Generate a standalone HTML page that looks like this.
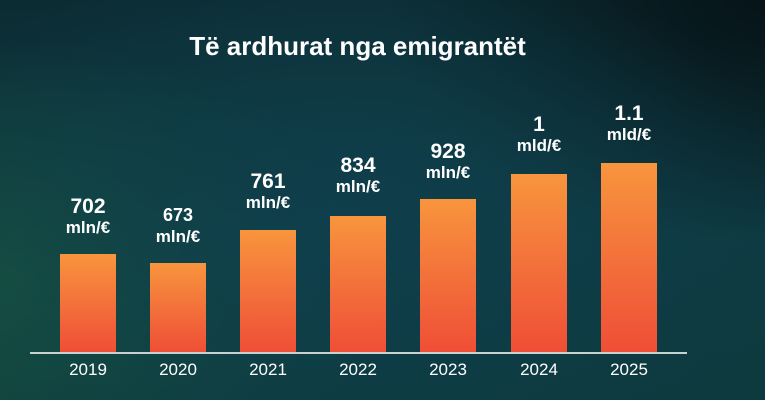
<!DOCTYPE html>
<html><head><style>
html,body{margin:0;padding:0}
body{width:765px;height:400px;overflow:hidden;position:relative;font-family:"Liberation Sans",sans-serif;color:#fff;
background:radial-gradient(ellipse 60% 70% at 45% 55%,#0f3f4c 0%,rgba(15,63,76,0) 100%),
radial-gradient(ellipse 50% 60% at 0% 70%,#16503f 0%,rgba(22,80,63,0) 100%),
radial-gradient(ellipse 50% 60% at 100% 0%,#061418 0%,rgba(6,20,24,0) 100%),
linear-gradient(180deg,#0c2c33 0%,#0e3a42 60%,#0d3a3e 100%);}
.t{position:absolute;left:0;width:715px;top:31px;text-align:center;font-weight:bold;font-size:26px}
.b{position:absolute;width:56px;background:linear-gradient(180deg,#f8953d 0%,#f26a3a 60%,#ef4e36 100%);bottom:47px}
.base{position:absolute;left:30px;width:657px;top:352px;height:2px;background:#c8d0d0}
.y{position:absolute;top:360px;width:80px;text-align:center;font-size:17px}
.l{position:absolute;width:90px;text-align:center;font-weight:bold;line-height:21px}
.l .n{font-size:21px}.l .u{font-size:17px}
</style></head><body>
<div class="t">Të ardhurat nga emigrantët</div>
<div class="b" style="left:60px;top:254px"></div>
<div class="b" style="left:150px;top:263px"></div>
<div class="b" style="left:240px;top:230px"></div>
<div class="b" style="left:330px;top:216px"></div>
<div class="b" style="left:420px;top:199px"></div>
<div class="b" style="left:511px;top:174px"></div>
<div class="b" style="left:601px;top:163px"></div>
<div class="base"></div>
<div class="y" style="left:48px">2019</div>
<div class="y" style="left:138px">2020</div>
<div class="y" style="left:228px">2021</div>
<div class="y" style="left:318px">2022</div>
<div class="y" style="left:408px">2023</div>
<div class="y" style="left:499px">2024</div>
<div class="y" style="left:589px">2025</div>
<div class="l" style="left:43px;top:196px"><div class="n">702</div><div class="u">mln/€</div></div>
<div class="l" style="left:133px;top:205px"><div class="n" style="font-size:18px">673</div><div class="u">mln/€</div></div>
<div class="l" style="left:223px;top:171px"><div class="n">761</div><div class="u">mln/€</div></div>
<div class="l" style="left:313px;top:155px"><div class="n">834</div><div class="u">mln/€</div></div>
<div class="l" style="left:403px;top:141px"><div class="n">928</div><div class="u">mln/€</div></div>
<div class="l" style="left:494px;top:114px"><div class="n">1</div><div class="u">mld/€</div></div>
<div class="l" style="left:584px;top:103px"><div class="n">1.1</div><div class="u">mld/€</div></div>
</body></html>
